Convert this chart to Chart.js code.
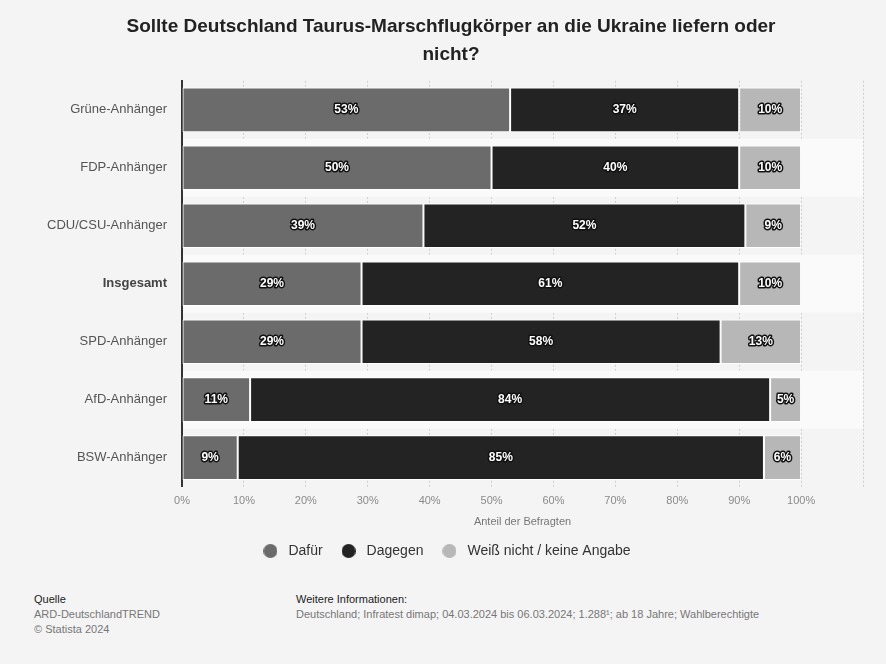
<!DOCTYPE html>
<html>
<head>
<meta charset="utf-8">
<script src="https://cdn.jsdelivr.net/npm/chart.js@4/dist/chart.umd.min.js"></script>
<style>
    body { margin: 0; background: #f4f4f4; font-family: Arial, "Liberation Sans", sans-serif; }
    #wrap { position: relative; width: 886px; height: 664px; }
    #box { position: absolute; left: 0; top: 0; width: 886px; height: 575px; }
    .foot { position: absolute; font-size: 11px; line-height: 15px; color: #777; }
    .foot b { font-weight: normal; color: #222; }
</style>
</head>
<body>
<div id="wrap">
    <div id="box"><canvas id="chart"></canvas></div>
    <div class="foot" style="left:34px; top:592px"><b>Quelle</b><br>ARD-DeutschlandTREND<br>© Statista 2024</div>
    <div class="foot" style="left:296px; top:592px"><b>Weitere Informationen:</b><br>Deutschland; Infratest dimap; 04.03.2024 bis 06.03.2024; 1.288¹; ab 18 Jahre; Wahlberechtigte</div>
</div>
<script>
const categories = ['Grüne-Anhänger', 'FDP-Anhänger', 'CDU/CSU-Anhänger', 'Insgesamt', 'SPD-Anhänger', 'AfD-Anhänger', 'BSW-Anhänger']
const dafuer = [53, 50, 39, 29, 29, 11, 9]
const dagegen = [37, 40, 52, 61, 58, 84, 85]
const weissNicht = [10, 10, 9, 10, 13, 5, 6]
const tickValues = [0, 10, 20, 30, 40, 50, 60, 70, 80, 90, 100, 110]

const FONT = 'Arial, "Liberation Sans", sans-serif'

// Legendenpunkt als kleines Bild
function legendDot(color) {
    const c = document.createElement('canvas')
    c.width = 14
    c.height = 14
    const g = c.getContext('2d')
    g.fillStyle = color
    g.beginPath()
    g.arc(7, 7, 7, 0, Math.PI * 2)
    g.fill()
    return c
}

// helle Streifen hinter jeder zweiten Zeile
const bandPlugin = {
    id: 'bands',
    beforeDatasetsDraw(chart) {
        const { ctx, chartArea, scales } = chart
        const y = scales.y
        const step = y.getPixelForValue(1) - y.getPixelForValue(0)
        ctx.save()
        ctx.fillStyle = '#fafafa'
        categories.forEach((c, i) => {
            if (i % 2 === 1) {
                const cy = y.getPixelForValue(i)
                ctx.fillRect(chartArea.left + 1, cy - step / 2, chartArea.right - chartArea.left - 1, step)
            }
        })
        ctx.restore()
    }
}

// Legende etwas nach links schieben
const legendShift = {
    id: 'legendShift',
    afterLayout(chart) {
        chart.legend.left -= 6
        chart.legend.right -= 6
    }
}

// Prozentwerte mittig auf den Balken
const labelPlugin = {
    id: 'barLabels',
    afterDatasetsDraw(chart) {
        const ctx = chart.ctx
        ctx.save()
        ctx.font = 'bold 12px ' + FONT
        ctx.textAlign = 'center'
        ctx.textBaseline = 'middle'
        ctx.lineJoin = 'round'
        chart.data.datasets.forEach((ds, di) => {
            chart.getDatasetMeta(di).data.forEach((bar, i) => {
                const p = bar.getProps(['x', 'y', 'base'], true)
                const cx = (p.x + p.base) / 2
                const txt = ds.data[i] + '%'
                ctx.strokeStyle = '#111'
                ctx.lineWidth = 3
                ctx.strokeText(txt, cx, p.y)
                ctx.fillStyle = '#fff'
                ctx.fillText(txt, cx, p.y)
            })
        })
        ctx.restore()
    }
}

const dataset = (label, data, color) => ({
    label: label,
    data: data,
    backgroundColor: color,
    borderColor: '#ffffff',
    borderWidth: 1,
    borderSkipped: false,
    barPercentage: 0.77,
    categoryPercentage: 1,
    pointStyle: legendDot(color)
})

new Chart(document.getElementById('chart'), {
    type: 'bar',
    data: {
        labels: categories,
        datasets: [
            dataset('Dafür', dafuer, '#6b6b6b'),
            dataset('Dagegen', dagegen, '#232323'),
            dataset('Weiß nicht / keine Angabe', weissNicht, '#b7b7b7')
        ]
    },
    options: {
        indexAxis: 'y',
        responsive: true,
        maintainAspectRatio: false,
        animation: false,
        layout: { padding: { left: 39, right: 23, top: 0, bottom: 7 } },
        scales: {
            x: {
                stacked: true,
                min: 0,
                max: 110,
                afterBuildTicks: (scale) => {
                    scale.ticks = tickValues.map(v => ({ value: v }))
                },
                ticks: {
                    callback: (v) => v <= 100 ? v + '%' : '',
                    color: '#8a8a8a',
                    font: { size: 11, family: FONT },
                    padding: 8,
                    maxRotation: 0
                },
                grid: {
                    color: '#cfcfcf',
                    drawTicks: false
                },
                border: { display: false, dash: [2, 2] },
                title: {
                    display: true,
                    text: 'Anteil der Befragten',
                    color: '#777',
                    font: { size: 11, family: FONT },
                    padding: { top: 0, bottom: 0 }
                }
            },
            y: {
                stacked: true,
                afterFit: (scale) => { scale.width = 143 },
                ticks: {
                    color: (c) => c.index === 3 ? '#444' : '#555',
                    font: (c) => ({ size: 13, family: FONT, weight: c.index === 3 ? 'bold' : 'normal' }),
                    padding: 15
                },
                grid: { display: false, drawTicks: false },
                border: { display: true, color: '#333', width: 2 }
            }
        },
        plugins: {
            title: {
                display: true,
                text: ['Sollte Deutschland Taurus-Marschflugkörper an die Ukraine liefern oder', 'nicht?'],
                color: '#222',
                font: { size: 19, weight: 'bold', family: FONT, lineHeight: 1.47 },
                padding: { top: 13, bottom: 12 }
            },
            legend: {
                position: 'bottom',
                labels: {
                    usePointStyle: true,
                    pointStyleWidth: 22,
                    boxHeight: 14,
                    color: '#333',
                    font: { size: 14, family: FONT },
                    padding: 15
                }
            },
            tooltip: { enabled: false }
        }
    },
    plugins: [bandPlugin, legendShift, labelPlugin]
})
</script>
</body>
</html>
